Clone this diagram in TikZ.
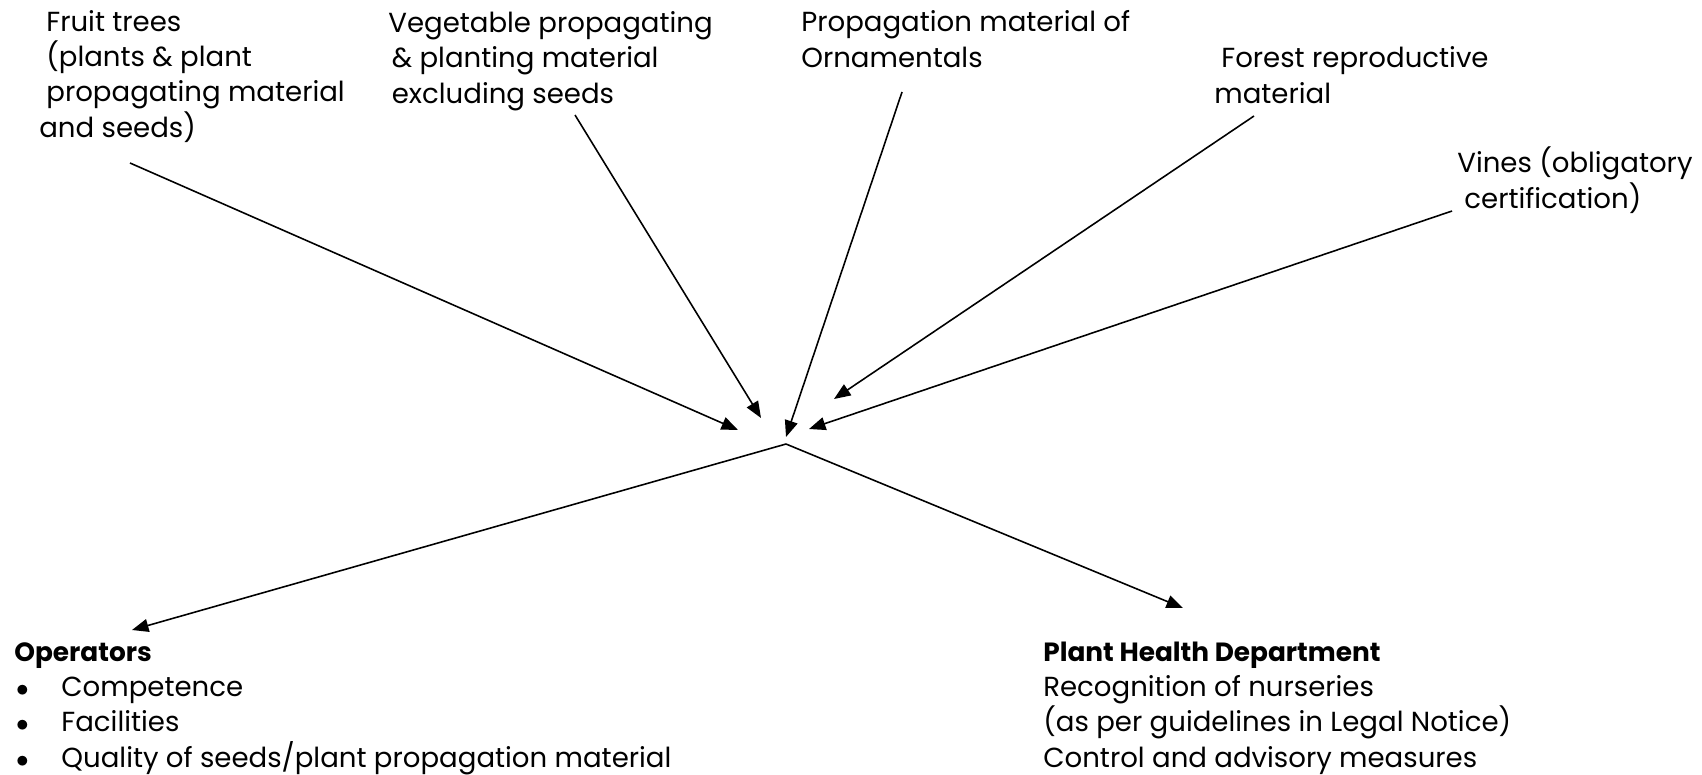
\documentclass[tikz,border=0pt]{standalone}
\usepackage{fontspec}
\setmainfont{Poppins}
\usepackage{tikz}
\usetikzlibrary{arrows.meta,positioning}
\newcommand{\ind}{\hspace*{4pt}}
\newcommand{\bul}{\makebox[26.8pt][l]{\hspace*{1pt}$\bullet$}}
\newcommand{\hd}[1]{{\fontsize{15}{20}\selectfont\bfseries #1}}

\begin{document}
\begin{tikzpicture}[x=0.02cm,y=-0.02cm,
	txt/.style={anchor=base west,align=left,inner sep=0pt,font=\fontsize{15.7}{20}\selectfont},
	link/.style={line width=0.9pt,-{Triangle[length=0.33cm,width=0.26cm]}}]
	% canvas
	\useasboundingbox (0,0) rectangle (1702,774);
	% material groups (placed by the baseline of their last line)
	\node[txt] (fruit) at (39,137) {\ind Fruit trees\\\ind (plants \& plant\\\ind propagating material\\and seeds)};
	\node[txt] (veg) at (388,103) {Vegetable propagating\\\hspace*{2pt}\& planting material\\\hspace*{2pt}excluding seeds};
	\node[txt] (orn) at (801,67) {Propagation material of\\Ornamentals};
	\node[txt] (forest) at (1214,103) {\ind Forest reproductive\\material};
	\node[txt] (vines) at (1457,208) {Vines (obligatory\\\ind certification)};
	% actors
	\node[txt] (ops) at (14,767) {\hd{Operators}\\\bul Competence\\\bul Facilities\\\bul Quality of seeds/plant propagation material};
	\node[txt] (phd) at (1043,767) {\hd{Plant Health Department}\\Recognition of nurseries\\(as per guidelines in Legal Notice)\\Control and advisory measures};
	% arrow ends
	\coordinate (fruit-t) at (130,163);
	\coordinate (fruit-h) at (738,430);
	\coordinate (veg-t) at (575,115);
	\coordinate (veg-h) at (761,418);
	\coordinate (orn-t) at (902,92);
	\coordinate (orn-h) at (786,437);
	\coordinate (forest-t) at (1254,116);
	\coordinate (forest-h) at (834,399);
	\coordinate (vines-t) at (1452,211);
	\coordinate (vines-h) at (809,429);
	\coordinate (hub) at (786,444);
	\coordinate (ops-h) at (132,630);
	\coordinate (phd-h) at (1183,608);
	% arrows in
	\draw[link] (fruit-t) -- (fruit-h);
	\draw[link] (veg-t) -- (veg-h);
	\draw[link] (orn-t) -- (orn-h);
	\draw[link] (forest-t) -- (forest-h);
	\draw[link] (vines-t) -- (vines-h);
	% arrows out
	\draw[link] (hub) -- (ops-h);
	\draw[link] (hub) -- (phd-h);
\end{tikzpicture}
\end{document}
